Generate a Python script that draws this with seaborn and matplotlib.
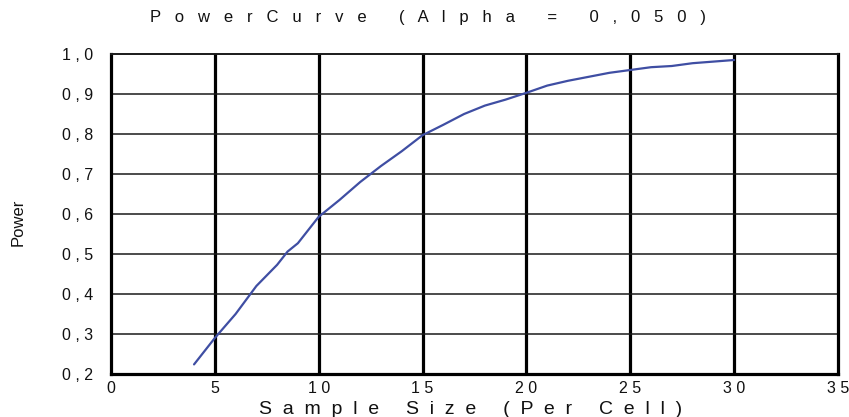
import matplotlib
matplotlib.use("Agg")
import matplotlib.pyplot as plt
import seaborn as sns
import pandas as pd

# Power curve values by sample size per cell
sample_size = [4, 5, 6, 7, 8, 8.5, 9, 9.5, 10, 11, 12, 13, 14, 15, 16, 17, 18,
               19, 20, 21, 22, 23, 24, 25, 26, 27, 28, 29, 30]
power = [0.224, 0.290, 0.350, 0.420, 0.473, 0.506, 0.527, 0.560, 0.593, 0.635,
         0.680, 0.720, 0.757, 0.797, 0.823, 0.850, 0.871, 0.886, 0.903, 0.921,
         0.933, 0.943, 0.953, 0.960, 0.967, 0.970, 0.977, 0.981, 0.985]

x_ticks = [0, 5, 10, 15, 20, 25, 30, 35]
x_tick_labels = ["0", "5", "1 0", "1 5", "2 0", "2 5", "3 0", "3 5"]
y_ticks = [0.2, 0.3, 0.4, 0.5, 0.6, 0.7, 0.8, 0.9, 1.0]
y_tick_labels = ["0 , 2", "0 , 3", "0 , 4", "0 , 5", "0 , 6", "0 , 7",
                 "0 , 8", "0 , 9", "1 , 0"]

title = ("P   o   w   e   r   C   u   r   v   e       "
         "(   A   l   p   h   a       =       0   ,   0   5   0   )")
x_label = "S  a  m  p  l  e     S  i  z  e     (  P  e  r     C  e  l  l  )"
y_label = "Power"

sns.set_style("white")
plt.rcParams["font.family"] = ["Liberation Sans", "DejaVu Sans"]

df = pd.DataFrame({"size": sample_size, "power": power})

fig = plt.figure(figsize=(8.49, 4.17), dpi=100)
ax = fig.add_axes([0.1307, 0.1031, 0.987 - 0.1307, 0.8705 - 0.1031])

# grid: heavy verticals, light horizontals
for xv in x_ticks[1:-1]:
    ax.axvline(xv, color="black", lw=2.3, zorder=1)
for yv in y_ticks[1:-1]:
    ax.axhline(yv, color="#1a1a1a", lw=1.1, zorder=1)

sns.lineplot(data=df, x="size", y="power", ax=ax, color="#3f4ea3",
             lw=1.6, zorder=3)

ax.set_xlim(0, 35)
ax.set_ylim(0.2, 1.0)
ax.set_xticks(x_ticks)
ax.set_xticklabels(x_tick_labels)
ax.set_yticks(y_ticks)
ax.set_yticklabels(y_tick_labels)
ax.tick_params(axis="both", length=0, labelsize=11.5, colors="#111111")
ax.tick_params(axis="x", pad=5)
ax.tick_params(axis="y", pad=13)
ax.set_xlabel("")
ax.set_ylabel("")

for side in ["left", "right", "bottom"]:
    ax.spines[side].set_color("black")
    ax.spines[side].set_linewidth(2.3)
ax.spines["top"].set_color("#1a1a1a")
ax.spines["top"].set_linewidth(1.4)

fig.text(0.554, 0.019, x_label, fontsize=14, ha="center", va="center",
         color="#111111")
fig.text(0.021, 0.468, y_label, fontsize=12, ha="center", va="center",
         rotation=90, color="#111111")
fig.text(0.504, 0.957, title, fontsize=12, ha="center", va="center",
         color="#111111")

fig.savefig("out.png", dpi=100)
